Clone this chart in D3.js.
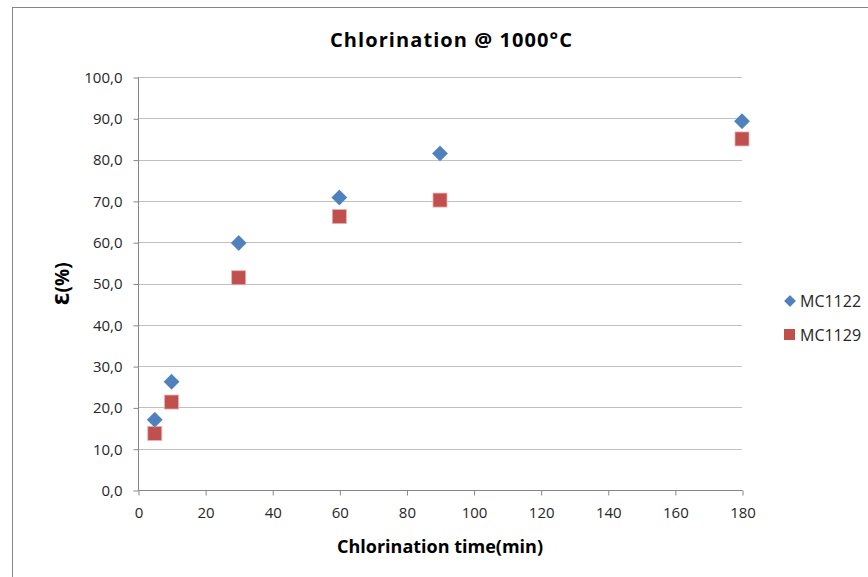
<!DOCTYPE html>
<html><head><meta charset="utf-8">
<script src="https://cdn.jsdelivr.net/npm/d3@7"></script>
<style>body{margin:0;background:#fff}svg{display:block}text{font-family:"Open Sans","DejaVu Sans",sans-serif}</style>
</head><body><svg id="c" width="868" height="577"></svg>
<script>
const times = [5, 10, 30, 60, 90, 180];
const mc1122 = [17.0, 26.2, 59.8, 70.8, 81.5, 89.3];
const mc1129 = [13.7, 21.3, 51.4, 66.2, 70.2, 85.0];
const xTicks = [0,20,40,60,80,100,120,140,160,180];
const yTicks = [0,10,20,30,40,50,60,70,80,90,100];
const seriesNames = ["MC1122","MC1129"];
const colors = ["#4F81BD","#C0504D"];

const svg = d3.select("#c");
svg.append("rect").attr("x",12.5).attr("y",7.5).attr("width",870).attr("height",600)
  .attr("fill","#fff").attr("stroke","#868686").attr("stroke-width",1);

const x = d3.scaleLinear().domain([0,180]).range([138,742]);
const y = d3.scaleLinear().domain([0,100]).range([490,77]);

svg.append("g").selectAll("line").data(yTicks.filter(d=>d>0)).join("line")
  .attr("x1",138).attr("x2",742).attr("y1",d=>Math.round(y(d))+0.5).attr("y2",d=>Math.round(y(d))+0.5)
  .attr("stroke","#c0c0c0").attr("stroke-width",1);

const fmt = d => d.toFixed(1).replace(".",",");
const yAxis = svg.append("g").attr("transform","translate(138.5,0.5)")
  .call(d3.axisLeft(y).tickValues(yTicks).tickFormat(fmt).tickSize(5).tickPadding(11));
const xAxis = svg.append("g").attr("transform","translate(0.5,490.5)")
  .call(d3.axisBottom(x).tickValues(xTicks).tickSize(5).tickPadding(12));
[yAxis,xAxis].forEach(a=>{
  a.select(".domain").attr("stroke","#868686");
  a.selectAll(".tick line").attr("stroke","#868686");
  a.selectAll("text").attr("font-size",15).attr("fill","#262626").attr("font-family","'Open Sans',sans-serif");
});
yAxis.select(".domain").attr("d","M0,"+Math.round(y(100))+"V"+Math.round(y(0)));
xAxis.select(".domain").attr("d","M"+Math.round(x(0))+",0H"+Math.round(x(180)));

function drawDiamond(g, cx, cy, r){
  g.append("path").attr("d",`M${cx},${cy-r}L${cx+r},${cy}L${cx},${cy+r}L${cx-r},${cy}Z`)
   .attr("fill",colors[0]).attr("stroke","#fff").attr("stroke-opacity",0.3).attr("stroke-width",0.7);
}
const pts = svg.append("g");
times.forEach((t,i)=>{
  pts.append("rect").attr("x",x(t)-7).attr("y",y(mc1129[i])-7).attr("width",14).attr("height",14)
    .attr("fill",colors[1]).attr("stroke","#e6b0ae").attr("stroke-width",0.8);
});
times.forEach((t,i)=>{ drawDiamond(pts, x(t), y(mc1122[i]), 8); });

const lg = svg.append("g");
drawDiamond(lg, 790, 301, 6);
lg.append("rect").attr("x",784).attr("y",329).attr("width",11).attr("height",11).attr("fill",colors[1]);
lg.selectAll("text").data(seriesNames).join("text")
  .attr("x",800).attr("y",(d,i)=>301+i*34).attr("dy","0.35em").attr("font-size",16).attr("fill","#262626").text(d=>d);

svg.append("text").attr("x",451).attr("y",47).attr("text-anchor","middle").attr("font-size",20)
  .attr("font-weight","bold").attr("fill","#000").attr("font-family","'Open Sans',sans-serif")
  .attr("textLength",242).text("Chlorination @ 1000°C");
svg.append("text").attr("x",440).attr("y",553).attr("text-anchor","middle").attr("font-size",18)
  .attr("font-weight","bold").attr("fill","#000").attr("font-family","'Open Sans',sans-serif")
  .text("Chlorination time(min)");
svg.append("text").attr("transform","translate(69,284) rotate(-90)").attr("text-anchor","middle")
  .attr("font-size",19).attr("font-weight","bold").attr("fill","#000").text("Ɛ(%)");
</script></body></html>
